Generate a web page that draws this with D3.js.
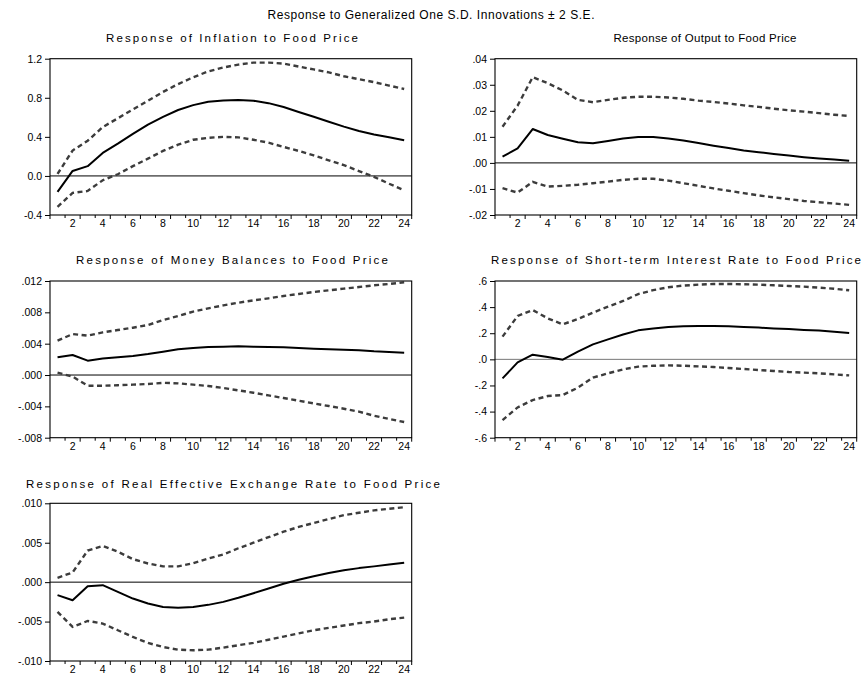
<!DOCTYPE html>
<html>
<head>
<meta charset="utf-8">
<script src="https://cdn.jsdelivr.net/npm/d3@7/dist/d3.min.js"></script>
<style>
  body { margin: 0; background: #fff; }
  svg { display: block; font-family: "Liberation Sans", Arial, sans-serif; }
</style>
</head>
<body>
<div id="chart"></div>
<script>
const periods = d3.range(1, 25);
const xLabels = [2, 4, 6, 8, 10, 12, 14, 16, 18, 20, 22, 24];

// inflation
const inflationResp = [-0.164, 0.051, 0.10, 0.235, 0.33, 0.43, 0.525, 0.605, 0.675, 0.725, 0.76, 0.772, 0.776, 0.77, 0.745, 0.705, 0.655, 0.605, 0.555, 0.505, 0.46, 0.425, 0.395, 0.365];
const inflationUpper = [0.02, 0.26, 0.36, 0.50, 0.59, 0.68, 0.77, 0.86, 0.94, 1.01, 1.07, 1.11, 1.14, 1.16, 1.16, 1.15, 1.12, 1.09, 1.06, 1.02, 0.99, 0.96, 0.925, 0.89];
const inflationLower = [-0.317, -0.174, -0.154, -0.044, 0.017, 0.10, 0.177, 0.256, 0.32, 0.37, 0.39, 0.40, 0.395, 0.37, 0.34, 0.297, 0.256, 0.21, 0.16, 0.11, 0.05, -0.01, -0.08, -0.147];
const inflationTicks = [-0.4, 0.0, 0.4, 0.8, 1.2];

// output
const outputResp = [0.0024, 0.0056, 0.013, 0.0107, 0.0093, 0.0079, 0.0075, 0.0084, 0.0094, 0.0099, 0.0099, 0.0094, 0.0086, 0.0076, 0.0066, 0.0057, 0.0048, 0.0041, 0.0034, 0.0028, 0.0022, 0.0017, 0.0013, 0.0008];
const outputUpper = [0.0139, 0.022, 0.0329, 0.0306, 0.0278, 0.0242, 0.0233, 0.0242, 0.025, 0.0254, 0.0254, 0.0251, 0.0246, 0.0239, 0.0234, 0.0228, 0.0221, 0.0215, 0.0208, 0.0202, 0.0197, 0.0191, 0.0185, 0.018];
const outputLower = [-0.0097, -0.0114, -0.0073, -0.0091, -0.0088, -0.0084, -0.0078, -0.0072, -0.0065, -0.0061, -0.0061, -0.0068, -0.0078, -0.0088, -0.0098, -0.0107, -0.0116, -0.0125, -0.0132, -0.0139, -0.0146, -0.0151, -0.0156, -0.0161];
const outputTicks = [-0.02, -0.01, 0.00, 0.01, 0.02, 0.03, 0.04];

// money balances
const moneyResp = [0.00226, 0.00255, 0.00183, 0.0021, 0.00226, 0.00243, 0.00268, 0.00298, 0.00328, 0.00345, 0.00357, 0.00362, 0.00366, 0.00362, 0.00357, 0.00353, 0.00345, 0.00336, 0.00328, 0.00323, 0.00315, 0.00302, 0.00294, 0.00285];
const moneyUpper = [0.00438, 0.00523, 0.00502, 0.00545, 0.00574, 0.00604, 0.00638, 0.00702, 0.00753, 0.00809, 0.00851, 0.00889, 0.00923, 0.00953, 0.00979, 0.01009, 0.01034, 0.0106, 0.01081, 0.01102, 0.01123, 0.01145, 0.01162, 0.01183];
const moneyLower = [0.0003, -0.0002, -0.00136, -0.00136, -0.0013, -0.00123, -0.00115, -0.001, -0.00106, -0.00123, -0.0014, -0.00166, -0.00196, -0.00226, -0.0026, -0.00294, -0.00328, -0.00362, -0.00396, -0.0043, -0.00468, -0.0052, -0.0056, -0.006];
const moneyTicks = [-0.008, -0.004, 0.000, 0.004, 0.008, 0.012];

// short-term interest rate
const rateResp = [-0.146, -0.023, 0.036, 0.018, -0.003, 0.059, 0.115, 0.153, 0.19, 0.222, 0.237, 0.248, 0.253, 0.255, 0.255, 0.253, 0.248, 0.243, 0.237, 0.232, 0.225, 0.22, 0.212, 0.202];
const rateUpper = [0.174, 0.332, 0.378, 0.314, 0.268, 0.309, 0.358, 0.404, 0.447, 0.50, 0.53, 0.552, 0.565, 0.572, 0.577, 0.577, 0.575, 0.572, 0.567, 0.562, 0.557, 0.549, 0.541, 0.529];
const rateLower = [-0.465, -0.368, -0.312, -0.281, -0.273, -0.217, -0.14, -0.107, -0.077, -0.056, -0.049, -0.046, -0.049, -0.054, -0.059, -0.066, -0.074, -0.082, -0.089, -0.097, -0.102, -0.107, -0.115, -0.123];
const rateTicks = [-0.6, -0.4, -0.2, 0.0, 0.2, 0.4, 0.6];

// real effective exchange rate
const reerResp = [-0.00165, -0.00229, -0.00051, -0.00038, -0.00123, -0.00208, -0.00271, -0.00314, -0.00326, -0.00314, -0.00288, -0.0025, -0.00198, -0.0014, -0.0008, -0.0002, 0.0003, 0.00076, 0.00115, 0.0015, 0.00178, 0.002, 0.00225, 0.00246];
const reerUpper = [0.00055, 0.00123, 0.004, 0.00458, 0.00386, 0.00292, 0.00237, 0.0020, 0.0020, 0.0024, 0.0030, 0.0035, 0.0043, 0.0050, 0.0057, 0.0064, 0.0070, 0.0075, 0.0080, 0.0085, 0.0088, 0.0091, 0.0093, 0.0095];
const reerLower = [-0.00377, -0.00568, -0.00492, -0.00525, -0.0061, -0.00695, -0.00771, -0.00822, -0.00856, -0.00864, -0.00856, -0.0083, -0.008, -0.0077, -0.0073, -0.0069, -0.0065, -0.0061, -0.0058, -0.0055, -0.0052, -0.005, -0.0047, -0.0045];
const reerTicks = [-0.010, -0.005, 0.000, 0.005, 0.010];

const noLead = f => v => {
  let s = d3.format(f)(v).replace('−', '-');
  return s.replace(/^(-?)0\./, '$1.');
};

const panels = [
  { title: 'Response of Inflation to Food Price', tx: 232, ty: 42, tw: 252,
    box: [50, 58.7, 411.7, 215], ticks: inflationTicks, fmt: v => d3.format('.1f')(v).replace('−', '-'),
    resp: inflationResp, upper: inflationUpper, lower: inflationLower, zero: '#000' },
  { title: 'Response of Output to Food Price', tx: 705, ty: 42, tw: 183,
    box: [495, 58.7, 856.7, 215], ticks: outputTicks, fmt: noLead('.2f'),
    resp: outputResp, upper: outputUpper, lower: outputLower, zero: '#000' },
  { title: 'Response of Money Balances to Food Price', tx: 232, ty: 263.5, tw: 312,
    box: [50, 281, 411.7, 437.7], ticks: moneyTicks, fmt: noLead('.3f'),
    resp: moneyResp, upper: moneyUpper, lower: moneyLower, zero: '#000' },
  { title: 'Response of Short-term Interest Rate to Food Price', tx: 676, ty: 263.5, tw: 370,
    box: [495, 281, 856.7, 437.7], ticks: rateTicks, fmt: noLead('.1f'),
    resp: rateResp, upper: rateUpper, lower: rateLower, zero: '#777' },
  { title: 'Response of Real Effective Exchange Rate to Food Price', tx: 233, ty: 488, tw: 414,
    box: [50, 503.3, 411.7, 661], ticks: reerTicks, fmt: noLead('.3f'),
    resp: reerResp, upper: reerUpper, lower: reerLower, zero: '#000' }
];

const width = 862;
const height = 675;

const svg = d3.select('#chart').append('svg')
  .attr('width', width)
  .attr('height', height);

svg.append('text')
  .attr('x', 431)
  .attr('y', 18.5)
  .attr('text-anchor', 'middle')
  .attr('font-size', 12)
  .attr('textLength', 327)
  .attr('lengthAdjust', 'spacing')
  .text('Response to Generalized One S.D. Innovations \u00B1 2 S.E.');

for (let p of panels) {
  let [x0, y0, x1, y1] = p.box;

  let x = d3.scaleBand()
    .domain(periods)
    .range([x0, x1]);

  let y = d3.scaleLinear()
    .domain(d3.extent(p.ticks))
    .range([y1, y0]);

  let g = svg.append('g');

  g.append('text')
    .attr('x', p.tx)
    .attr('y', p.ty)
    .attr('text-anchor', 'middle')
    .attr('font-size', 11.5)
    .attr('textLength', p.tw)
    .attr('lengthAdjust', 'spacing')
    .text(p.title);

  // zero line
  g.append('line')
    .attr('x1', x0).attr('x2', x1)
    .attr('y1', y(0)).attr('y2', y(0))
    .attr('stroke', p.zero)
    .attr('stroke-width', 1);

  // y axis
  let yAxis = g.append('g')
    .attr('transform', `translate(${x0},0)`)
    .call(d3.axisLeft(y).tickValues(p.ticks).tickFormat(p.fmt).tickSize(5).tickPadding(3));
  yAxis.select('.domain').remove();
  yAxis.selectAll('text').attr('font-size', 10.5).attr('fill', '#000').attr('font-family', null);
  yAxis.selectAll('line').attr('stroke', '#000');

  // x axis: ticks on band edges, labels at band centres
  g.append('g')
    .selectAll('line')
    .data(d3.range(0, periods.length + 1))
    .join('line')
    .attr('x1', i => x0 + i * x.step())
    .attr('x2', i => x0 + i * x.step())
    .attr('y1', y1)
    .attr('y2', (i) => y1 + (i % 2 === 0 ? 4 : 3))
    .attr('stroke', '#000');

  g.append('g')
    .selectAll('text')
    .data(xLabels)
    .join('text')
    .attr('x', d => x(d) + x.bandwidth() / 2)
    .attr('y', y1 + 12)
    .attr('text-anchor', 'middle')
    .attr('font-size', 10.5)
    .text(d => d);

  let line = d3.line()
    .x((d, i) => x(periods[i]) + x.bandwidth() / 2)
    .y(d => y(d));

  for (let band of [p.upper, p.lower]) {
    g.append('path')
      .datum(band)
      .attr('fill', 'none')
      .attr('stroke', '#3c3c3c')
      .attr('stroke-width', 2.4)
      .attr('stroke-dasharray', '5,3.5')
      .attr('d', line);
  }

  g.append('path')
    .datum(p.resp)
    .attr('fill', 'none')
    .attr('stroke', '#000')
    .attr('stroke-width', 2)
    .attr('stroke-linejoin', 'round')
    .attr('d', line);

  // frame
  g.append('rect')
    .attr('x', x0)
    .attr('y', y0)
    .attr('width', x1 - x0)
    .attr('height', y1 - y0)
    .attr('fill', 'none')
    .attr('stroke', '#000')
    .attr('stroke-width', 1.1);
}
</script>
</body>
</html>
